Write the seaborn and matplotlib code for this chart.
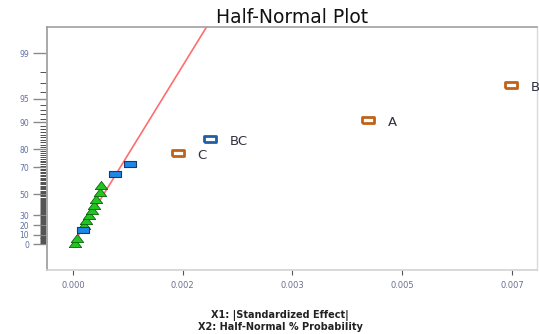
from statistics import NormalDist
import numpy as np
import pandas as pd
import matplotlib
matplotlib.use('Agg')
import matplotlib.pyplot as plt
from matplotlib.markers import MarkerStyle
from matplotlib.path import Path
import seaborn as sns

# |standardized effect| and half-normal % probability
effect = [0.000037, 0.000064, 0.000155, 0.000175, 0.000212, 0.000260, 0.000303,
          0.000340, 0.000372, 0.000426, 0.000451, 0.000665, 0.000914,
          0.001675, 0.002185, 0.004705, 0.006985]
prob = [1.0, 6.8, 15.3, 20.3, 25.4, 30.5, 35.4, 40.2, 45.7, 52.0, 57.5,
        65.4, 71.9, 78.1, 84.4, 90.6, 96.8]
kind = ['error', 'error', 'neg', 'error', 'error', 'error', 'error', 'error',
        'error', 'error', 'error', 'neg', 'neg', 'pos_sel', 'neg_sel',
        'pos_sel', 'pos_sel']
term = [''] * 13 + ['C', 'BC', 'A', 'B']

# fitted half-normal line (two ends)
fit_effect = [0.0, 0.00239]
fit_prob = [0.0, 99.9]

prob_major = [0, 10, 20, 30, 50, 70, 80, 90, 95, 99]
prob_minor = list(range(0, 100))
x_ticks = [0.0, 0.00175, 0.0035, 0.00525, 0.007]
x_labels = ['0.000', '0.002', '0.003', '0.005', '0.007']

nd = NormalDist()


def half_z(p):
    return np.array([nd.inv_cdf(0.5 + v / 200.0) for v in p])


df = pd.DataFrame({'effect': effect, 'prob': prob, 'kind': kind, 'term': term})
df['z'] = half_z(df['prob'])
fit = pd.DataFrame({'effect': fit_effect, 'z': half_z(fit_prob)})

sns.set_style('white')
plt.rcParams['font.family'] = ['DejaVu Sans']

fig = plt.figure(figsize=(5.39, 3.34), dpi=100)
ax = fig.add_axes([47 / 539, 64 / 334, 490 / 539, 243 / 334])

sns.lineplot(data=fit, x='effect', y='z', ax=ax, color='#ff6e6e', lw=1.2,
             zorder=1)

tri = MarkerStyle(Path([(-1.3, -0.85), (1.3, -0.85), (0, 0.85), (-1.3, -0.85)]))
rect = MarkerStyle(Path([(-1.9, -1), (1.9, -1), (1.9, 1), (-1.9, 1), (-1.9, -1)]))

styles = {
    'error': dict(marker=tri, s=80, color='#22c422', edgecolor='#0b650b', linewidth=0.6),
    'neg': dict(marker=rect, s=66, color='#1e88e5', edgecolor='#163a6e', linewidth=0.8),
    'pos_sel': dict(marker=rect, s=68, color='white', edgecolor='#c0621a', linewidth=2.0),
    'neg_sel': dict(marker=rect, s=68, color='white', edgecolor='#1f5fa8', linewidth=2.0),
}
for k, st in styles.items():
    sub = df[df['kind'] == k]
    sns.scatterplot(data=sub, x='effect', y='z', ax=ax, zorder=3, legend=False, **st)

for _, r in df[df['term'] != ''].iterrows():
    ax.annotate(r['term'], (r['effect'], r['z']), xytext=(14, -1.5),
                textcoords='offset points', va='center', ha='left',
                fontsize=9.5, color='#2e3040', annotation_clip=False)

ax.set_xlim(-0.000415, 0.0074)
ax.set_ylim(-0.351, 2.932)

ax.set_xticks(x_ticks)
ax.set_xticklabels(x_labels)
ax.set_yticks(half_z(prob_major))
ax.set_yticklabels([str(p) for p in prob_major])
ax.set_yticks(half_z(prob_minor), minor=True)

ax.tick_params(axis='y', which='major', direction='out', length=10, width=1.0,
               color='#8a8a8a', labelsize=5.5, labelcolor='#6070a0', pad=3, left=True)
ax.tick_params(axis='y', which='minor', direction='out', length=5, width=0.7,
               color='#505050', left=True)
ax.tick_params(axis='x', which='major', direction='out', length=3.5, width=0.8,
               color='#555555', labelsize=6, labelcolor='#6a7090', pad=4.5, bottom=True)

ax.spines['top'].set_color('#a0a0a0')
ax.spines['top'].set_linewidth(1.2)
ax.spines['left'].set_color('#a8a8a8')
ax.spines['left'].set_linewidth(1.4)
ax.spines['bottom'].set_color('#d2d2d2')
ax.spines['bottom'].set_linewidth(1.2)
ax.spines['right'].set_color('#dadada')
ax.spines['right'].set_linewidth(1.0)

ax.set_xlabel('')
ax.set_ylabel('')
ax.set_title('Half-Normal Plot', fontsize=13.5, color='#111111', pad=3)

fig.text(280 / 539, 1 - 315.5 / 334, 'X1: |Standardized Effect|', ha='center',
         va='center', fontsize=7.0, fontweight='bold', color='#222222')
fig.text(280 / 539, 1 - 326.5 / 334, 'X2: Half-Normal % Probability', ha='center',
         va='center', fontsize=7.0, fontweight='bold', color='#222222')

fig.savefig('out.png', dpi=100)
